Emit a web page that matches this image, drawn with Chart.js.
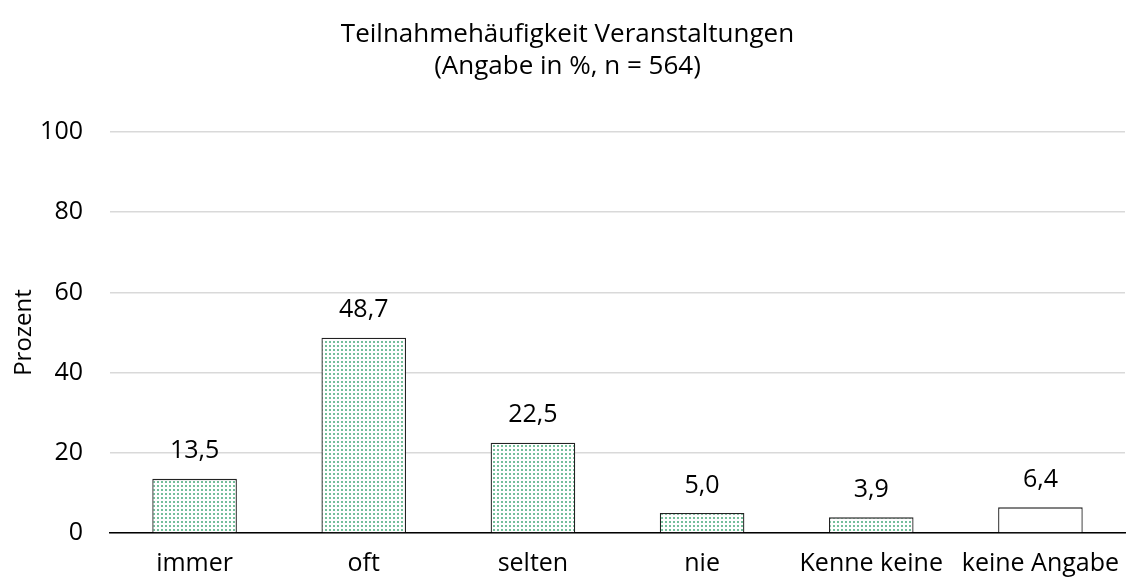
<!DOCTYPE html>
<html>
<head>
<meta charset="utf-8">
<script src="https://cdn.jsdelivr.net/npm/chart.js@4"></script>
<style>
  html, body { margin: 0; padding: 0; background: #fff; }
  #wrap { width: 1130px; height: 583px; }
</style>
</head>
<body>
<div id="wrap"><canvas id="myChart" width="1130" height="583"></canvas></div>
<script>
// Categories and values
const categories = ['immer', 'oft', 'selten', 'nie', 'Kenne keine', 'keine Angabe'];
const values = [13.5, 48.7, 22.5, 5.0, 3.9, 6.4];
const yTicks = [0, 20, 40, 60, 80, 100];
const titleLines = ['Teilnahmehäufigkeit Veranstaltungen', '(Angabe in %, n = 564)'];

const FONT = "'Open Sans', 'Noto Sans', sans-serif";

// Dotted green fill, like the print pattern
function makeDots() {
  const c = document.createElement('canvas');
  c.width = 4; c.height = 4;
  const g = c.getContext('2d');
  g.fillStyle = '#ffffff';
  g.fillRect(0, 0, 4, 4);
  g.fillStyle = 'rgba(70,170,120,0.75)';
  g.fillRect(1, 1, 2, 2);
  return g.createPattern(c, 'repeat');
}
const dots = makeDots();

// Value labels above bars, with decimal comma
const valueLabels = {
  id: 'valueLabels',
  afterDatasetsDraw(chart) {
    const ctx = chart.ctx;
    const meta = chart.getDatasetMeta(0);
    ctx.save();
    ctx.font = '25px ' + FONT;
    ctx.fillStyle = '#000';
    ctx.textAlign = 'center';
    ctx.textBaseline = 'bottom';
    meta.data.forEach((bar, i) => {
      ctx.fillText(values[i].toFixed(1).replace('.', ','), bar.x, bar.y - 15);
    });
    ctx.restore();
  }
};

const config = {
  type: 'bar',
  data: {
    labels: categories,
    datasets: [{
      data: values,
      backgroundColor: values.map((v, i) => i === values.length - 1 ? '#ffffff' : dots),
      borderColor: '#222',
      borderWidth: 1.3,
      borderSkipped: 'bottom',
      categoryPercentage: 1,
      barPercentage: 0.5
    }]
  },
  options: {
    responsive: false,
    animation: false,
    layout: { padding: { top: 0, right: 5, bottom: 0, left: 10 } },
    plugins: {
      legend: { display: false },
      tooltip: { enabled: false },
      title: {
        display: true,
        text: titleLines,
        color: '#000',
        font: { family: FONT, size: 26, weight: 'normal', lineHeight: 1.23 },
        padding: { top: 19, bottom: 49 }
      }
    },
    scales: {
      x: {
        grid: { display: false },
        border: { color: '#000', width: 1.5 },
        ticks: { color: '#000', font: { family: FONT, size: 25 }, padding: 8 },
        afterFit(axis) { axis.height = 50; }
      },
      y: {
        min: 0,
        max: 100,
        afterBuildTicks(axis) { axis.ticks = yTicks.map(v => ({ value: v })); },
        afterFit(axis) { axis.width = 100; },
        grid: { color: '#d9d9d9', lineWidth: 1.5, drawTicks: false },
        border: { display: false },
        ticks: { color: '#000', font: { family: FONT, size: 25 }, padding: 27 },
        title: {
          display: true,
          text: 'Prozent',
          color: '#000',
          font: { family: FONT, size: 24 },
          padding: { top: 0, bottom: 0 }
        }
      }
    }
  },
  plugins: [valueLabels]
};

const chart = new Chart(document.getElementById('myChart'), config);
</script>
</body>
</html>
